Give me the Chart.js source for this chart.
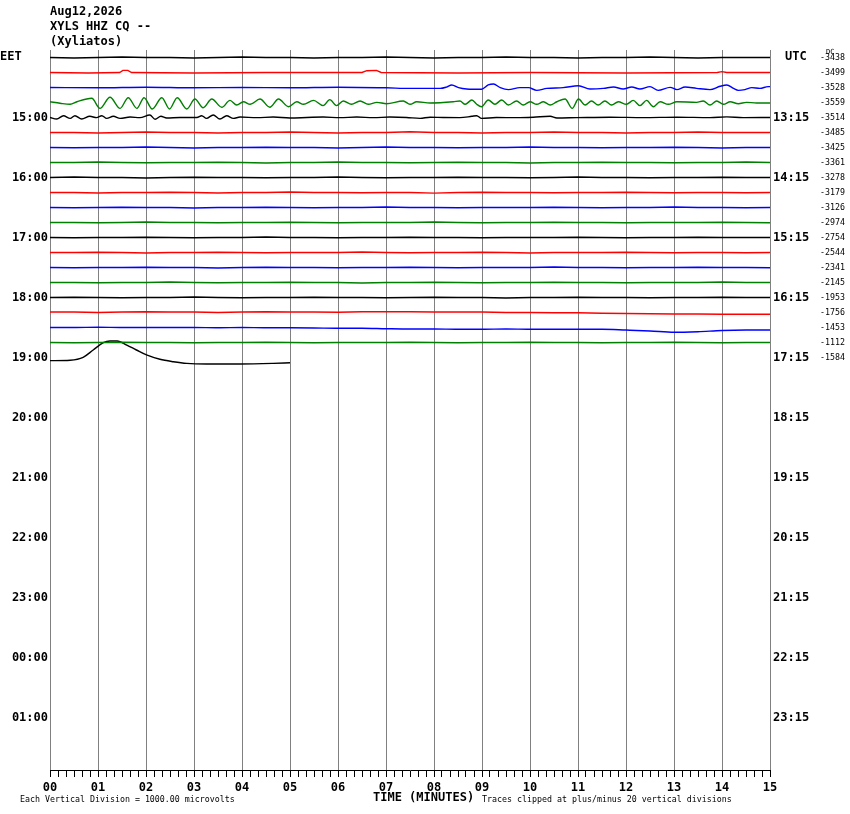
<!DOCTYPE html>
<html><head><meta charset="utf-8">
<script src="https://cdn.jsdelivr.net/npm/chart.js@4.4.1/dist/chart.umd.min.js"></script>
<style>html,body{margin:0;padding:0;background:#fff;}canvas{display:block;}</style>
</head><body>
<canvas id="c" width="850" height="814" style="width:850px;height:814px"></canvas>
<script>
// ---------- text / labels ----------
const headerLines = ['Aug12,2026', 'XYLS HHZ CQ --', '(Xyliatos)'];
const minuteLabels = ['00','01','02','03','04','05','06','07','08','09','10','11','12','13','14','15'];
const eetLabels = ['15:00','16:00','17:00','18:00','19:00','20:00','21:00','22:00','23:00','00:00','01:00'];
const utcLabels = ['13:15','14:15','15:15','16:15','17:15','18:15','19:15','20:15','21:15','22:15','23:15'];
const dcValues = [-3438,-3499,-3528,-3559,-3514,-3485,-3425,-3361,-3278,-3179,-3126,-2974,-2754,-2544,-2341,-2145,-1953,-1756,-1453,-1112,-1584];
const traceColors = ['#000000','#ff0000','#0000ff','#007f00'];

// ---------- trace data (offset in trace spacings, + = down) ----------
const flatStep = 0.5; // minutes between samples of the uniform traces
const row0 = [0,0.03,0,-0.03,0,0,0.03,0,-0.03,0,0,0.03,0,0,-0.03,0,0.03,0,0,-0.03,0,0,0.03,0,0,-0.03,0,0.03,0,0,0];
const row1 = [[0,0],[0.8,0.03],[1.45,0],[1.52,-0.14],[1.62,-0.14],[1.7,0],[3,0.03],[4.5,0],[6.5,0],[6.6,-0.12],[6.8,-0.14],[6.9,0],[8.5,0.03],[10,0],[12,0.03],[13.9,0],[14.0,-0.06],[14.1,0],[15,0]];
const row2 = [[0,0],[1,0.02],[2,-0.02],[3,0.02],[4,0],[5,0.02],[6,-0.02],[7,0.02],[7.5,0.06],[8.13,0.06],[8.26,-0.03],[8.37,-0.17],[8.51,0.01],[8.68,0.1],[8.99,0.12],[9.13,-0.17],[9.24,-0.23],[9.38,0.01],[9.55,0.14],[9.79,0.01],[9.97,0.01],[10.14,0.19],[10.35,0.06],[10.69,0.01],[11.01,-0.12],[11.25,0.1],[11.53,0.06],[11.74,-0.03],[11.94,0.1],[12.12,-0.03],[12.29,0.1],[12.5,-0.06],[12.67,0.19],[12.92,-0.01],[13.06,0.14],[13.23,-0.03],[13.47,0.06],[13.75,0.14],[13.96,-0.08],[14.1,-0.17],[14.24,0.06],[14.34,0.19],[14.48,0.14],[14.62,0.01],[14.79,0.06],[14.96,-0.06],[15,-0.06]];
const row3 = [[0,-0.05],[0.21,0.05],[0.42,0.12],[0.56,-0.05],[0.87,-0.28],[1.04,0.39],[1.25,-0.35],[1.46,0.39],[1.63,-0.32],[1.81,0.39],[1.96,-0.32],[2.13,0.43],[2.33,-0.32],[2.49,0.43],[2.65,-0.32],[2.85,0.43],[3.02,-0.23],[3.19,0.35],[3.37,-0.23],[3.58,0.32],[3.75,-0.14],[3.89,0.17],[4.03,-0.05],[4.17,0.12],[4.375,-0.23],[4.58,0.32],[4.76,-0.23],[4.97,0.28],[5.14,-0.05],[5.28,0.12],[5.49,-0.14],[5.69,0.21],[5.83,-0.19],[5.97,0.21],[6.11,-0.1],[6.28,0.12],[6.46,-0.1],[6.63,0.12],[6.81,-0.01],[7.01,0.08],[7.36,-0.1],[7.5,0.12],[7.64,-0.05],[7.92,0.03],[8.4,-0.05],[8.54,-0.1],[8.65,0.12],[8.79,-0.17],[8.89,0.12],[8.99,0.28],[9.13,-0.17],[9.27,0.12],[9.41,-0.17],[9.55,0.17],[9.72,-0.1],[9.86,0.17],[10.0,-0.05],[10.14,0.12],[10.28,-0.05],[10.42,0.17],[10.56,-0.05],[10.73,-0.23],[10.88,0.39],[11.01,-0.23],[11.15,0.17],[11.28,-0.1],[11.42,0.17],[11.56,-0.1],[11.7,0.17],[11.84,-0.05],[12.01,0.12],[12.15,-0.14],[12.29,0.21],[12.43,-0.14],[12.57,0.28],[12.71,-0.05],[12.88,0.12],[13.06,-0.05],[13.47,-0.01],[13.61,-0.1],[13.75,0.17],[13.89,-0.1],[14.03,0.12],[14.17,-0.05],[14.34,0.08],[14.51,-0.01],[14.72,0.03],[14.96,0.03],[15,0.03]];
const row4 = [[0,0],[0.14,0.1],[0.28,-0.12],[0.42,0.06],[0.52,-0.12],[0.66,0.1],[0.83,-0.08],[0.97,0.01],[1.08,-0.12],[1.18,0.06],[1.32,-0.08],[1.46,0.06],[1.67,-0.03],[1.875,0.01],[2.08,-0.17],[2.19,0.12],[2.31,-0.08],[2.43,0.03],[2.71,0],[3.06,0],[3.16,-0.12],[3.26,0.06],[3.4,-0.17],[3.54,0.1],[3.68,-0.12],[3.82,0.06],[3.96,-0.03],[4.31,0.01],[4.65,-0.03],[5.0,0.03],[5.35,0],[5.69,-0.03],[6.04,0.01],[6.39,-0.03],[6.74,0.01],[7.08,-0.03],[7.43,0],[7.71,0.06],[7.92,-0.02],[8.19,0],[8.54,0.01],[8.79,-0.08],[8.89,-0.12],[8.99,0.06],[9.3,0],[9.72,0.01],[10.07,-0.02],[10.42,-0.08],[10.56,0.03],[10.97,0.01],[11.67,-0.02],[12.36,0.01],[13.06,-0.02],[13.75,0.01],[14.1,-0.04],[14.44,0.01],[15,0]];
const row5 = [0,0,0.03,0,-0.03,0,0,0.03,0,0,-0.03,0,0.03,0,0,-0.05,0,0,0.03,0,0,-0.03,0,0,0.03,0,0,-0.03,0,0,0];
const row6 = [0,0.02,0,0,-0.03,0,0.03,0,0,-0.02,0,0,0.03,0,-0.03,0,0,0.02,0,0,-0.03,0,0,0.02,0,0,-0.02,0,0.03,0,0];
const row7 = [0,0,-0.03,0,0.02,0,0,-0.02,0,0.03,0,0,-0.03,0,0,0.02,0,-0.02,0,0,0.03,0,0,-0.02,0,0,0.02,0,0,-0.03,0];
const row8 = [0,-0.03,0,0,0.03,0,-0.02,0,0,0.02,0,0,-0.03,0,0.02,0,0,-0.02,0,0,0.02,0,-0.03,0,0,0.02,0,0,-0.02,0,0];
const row9 = [0,0,0.03,0,0,-0.02,0,0.03,0,0,-0.03,0,0,0.02,0,0,0.04,0,-0.02,0,0,0.02,0,0,-0.02,0,0.02,0,0,0.02,0];
const row10 = [0,0.02,0,-0.02,0,0,0.03,0,0,-0.02,0,0.02,0,0,-0.03,0,0,0.02,0,0,0,-0.02,0,0.02,0,0,-0.03,0,0,0.02,0];
const row11 = [0,0,0.02,0,-0.03,0,0,0.02,0,0,-0.02,0,0.02,0,0,0,-0.03,0,0.02,0,0,-0.02,0,0,0.02,0,0,0,-0.02,0,0.02];
const row12 = [0,0.02,0,0,-0.02,0,0.02,0,0,-0.03,0,0,0.02,0,0,-0.02,0,0,0.02,0,0,0,-0.02,0,0.02,0,0,-0.02,0,0,0];
const row13 = [0,0,-0.02,0,0.03,0,0,-0.02,0,0.02,0,0,0,-0.03,0,0.02,0,0,-0.02,0,0.03,0,0,0,-0.02,0,0.02,0,0,0.02,0];
const row14 = [0,0.02,0,0,-0.02,0,0,0.03,0,-0.02,0,0,0.02,0,0,-0.02,0,0.02,0,0,0,-0.03,0,0,0.02,0,0,-0.02,0,0,0.02];
const row15 = [0,0,0.02,0,0,-0.03,0,0.02,0,0,-0.02,0,0,0.03,0,0,-0.02,0,0.02,0,0,-0.02,0,0,0.02,0,0,0,-0.03,0,0];
const row16 = [0,-0.02,0,0.02,0,0,-0.03,0,0.02,0,0,-0.02,0,0,0.02,0,-0.02,0,0,0.03,0,0,-0.02,0,0,0.02,0,0,-0.02,0,0];
const row17 = [-0.03,-0.03,0,-0.03,-0.05,-0.03,-0.03,0,-0.03,-0.05,-0.03,-0.03,-0.02,-0.05,-0.05,-0.05,-0.03,-0.03,-0.03,0,0,0.02,0.02,0.05,0.07,0.08,0.1,0.1,0.12,0.12,0.12];
const row18 = [0,0,-0.02,0,0,0,0,0.02,0,0.02,0.02,0.03,0.05,0.05,0.08,0.1,0.1,0.12,0.12,0.1,0.12,0.12,0.12,0.12,0.17,0.23,0.32,0.28,0.2,0.17,0.17];
const row19 = [0,0.02,0,-0.02,0,0,0.02,0,0,-0.02,0,0.02,0,0,0,-0.02,0,0.02,0,0,-0.02,0,0,0.02,0,0,-0.02,0,0.02,0,0];
const row20 = [[0,0.21],[0.42,0.18],[0.69,-0.01],[0.9,-0.5],[1.11,-0.99],[1.25,-1.1],[1.4,-1.1],[1.6,-0.83],[1.8,-0.5],[2.01,-0.17],[2.29,0.12],[2.57,0.28],[2.85,0.39],[3.26,0.43],[3.96,0.43],[4.65,0.39],[5.0,0.35]];

const traces = [row0,row1,row2,row3,row4,row5,row6,row7,row8,row9,row10,row11,row12,row13,row14,row15,row16,row17,row18,row19,row20];
const smoothRows = [2,3,4,18,20];

function toPoints(arr, row) {
  return arr.map((v, i) => Array.isArray(v)
    ? {x: v[0], y: row + 0.5 + v[1]}
    : {x: i * flatStep, y: row + 0.5 + v});
}

const datasets = traces.map((arr, row) => ({
  data: toPoints(arr, row),
  borderColor: traceColors[row % 4],
  borderWidth: 1.4,
  pointRadius: 0,
  fill: false,
  cubicInterpolationMode: smoothRows.includes(row) ? 'monotone' : 'default',
  tension: 0
}));

const isInt = v => Math.abs(v - Math.round(v)) < 1e-6;
const MONO = '"DejaVu Sans Mono", "Liberation Mono", monospace';

const textPlugin = {
  id: 'heliText',
  afterDraw(chart) {
    const ctx = chart.ctx;
    ctx.save();
    ctx.fillStyle = '#000';
    ctx.textBaseline = 'middle';
    ctx.textAlign = 'left';
    ctx.font = 'bold 12px ' + MONO;
    headerLines.forEach((s, i) => ctx.fillText(s, 50, 12 + 15 * i));
    ctx.fillText('EET', 0, 57);
    ctx.fillText('UTC', 785, 57);
    ctx.fillText('TIME (MINUTES)', 373, 798);
    ctx.font = '8.3px ' + MONO;
    ctx.fillText('Each Vertical Division = 1000.00 microvolts', 20, 799.5);
    ctx.fillText('Traces clipped at plus/minus 20 vertical divisions', 482, 799.5);
    ctx.font = '7px ' + MONO;
    ctx.fillText('DC', 826, 52);
    ctx.restore();
  }
};

new Chart(document.getElementById('c'), {
  type: 'line',
  data: { datasets },
  plugins: [textPlugin],
  options: {
    responsive: false,
    animation: false,
    devicePixelRatio: 1,
    layout: { padding: { top: 50, left: 0, right: 0, bottom: 0 } },
    plugins: { legend: { display: false }, tooltip: { enabled: false }, title: { display: false } },
    scales: {
      x: {
        type: 'linear', position: 'bottom', min: 0, max: 15,
        afterBuildTicks: s => { s.ticks = Array.from({length: 91}, (_, i) => ({value: i / 6})); },
        afterFit: s => { s.height = 44; },
        ticks: {
          autoSkip: false, maxRotation: 0, padding: 4, color: '#000',
          font: { family: MONO, size: 12, weight: 'bold' },
          callback: v => isInt(v) ? minuteLabels[Math.round(v)] : ''
        },
        grid: {
          display: true, drawOnChartArea: true, drawTicks: true, tickLength: 7,
          color: c => (c.tick && isInt(c.tick.value)) ? '#808080' : 'rgba(0,0,0,0)',
          tickColor: '#000', lineWidth: 1, tickWidth: 1
        },
        border: { display: true, color: '#000', width: 1 }
      },
      y: {
        type: 'linear', position: 'left', min: 0, max: 48, reverse: true,
        afterBuildTicks: s => { s.ticks = eetLabels.map((_, i) => ({value: 4 * (i + 1) + 0.5})); },
        afterFit: s => { s.width = 50; },
        ticks: {
          autoSkip: false, padding: 2, color: '#000',
          font: { family: MONO, size: 12, weight: 'bold' },
          callback: (v, i) => eetLabels[i]
        },
        grid: { display: false, drawTicks: false },
        border: { display: false }
      },
      yUtc: {
        type: 'linear', position: 'right', min: 0, max: 48, reverse: true, weight: 0,
        afterBuildTicks: s => { s.ticks = utcLabels.map((_, i) => ({value: 4 * (i + 1) + 0.5})); },
        afterFit: s => { s.width = 50; },
        ticks: {
          autoSkip: false, padding: 3, color: '#000',
          font: { family: MONO, size: 12, weight: 'bold' },
          callback: (v, i) => utcLabels[i]
        },
        grid: { display: false, drawTicks: false },
        border: { display: false }
      },
      yDc: {
        type: 'linear', position: 'right', min: 0, max: 48, reverse: true, weight: 1,
        afterBuildTicks: s => { s.ticks = dcValues.map((_, i) => ({value: i + 0.5})); },
        afterFit: s => { s.width = 30; },
        ticks: {
          autoSkip: false, padding: 0, color: '#000',
          font: { family: MONO, size: 8.3 },
          callback: (v, i) => String(dcValues[i])
        },
        grid: { display: false, drawTicks: false },
        border: { display: false }
      }
    }
  }
});
</script>
</body></html>
